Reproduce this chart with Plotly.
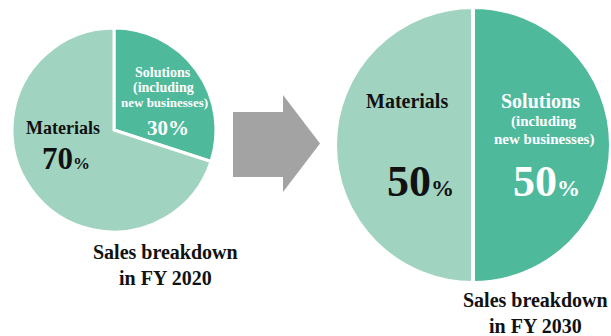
import plotly.graph_objects as go

# Data
categories = ["Solutions", "Materials"]
values_2020 = [30, 70]
values_2030 = [50, 50]
titles = ["Sales breakdown<br>in FY 2020", "Sales breakdown<br>in FY 2030"]

LIGHT = "#a0d4c1"
DARK = "#4fb99b"
GRAY = "#a3a3a3"
FONT = "Liberation Serif"
W, H = 611, 336

fig = go.Figure()

fig.add_trace(go.Pie(
    labels=categories, values=values_2020, sort=False, direction="clockwise",
    rotation=0, textinfo="none", hoverinfo="label+percent",
    marker=dict(colors=[DARK, LIGHT], line=dict(color="white", width=3)),
    domain=dict(x=[12 / W, 216 / W], y=[(H - 232) / H, (H - 28) / H]),
    showlegend=False,
))
fig.add_trace(go.Pie(
    labels=categories, values=values_2030, sort=False, direction="clockwise",
    rotation=0, textinfo="none", hoverinfo="label+percent",
    marker=dict(colors=[DARK, LIGHT], line=dict(color="white", width=4)),
    domain=dict(x=[335 / W, 611 / W], y=[(H - 283) / H, (H - 7) / H]),
    showlegend=False,
))

# Arrow
fig.add_shape(type="path",
              path="M 233,112 L 283,112 L 283,95 L 320,143.5 L 283,192 L 283,177 L 233,177 Z",
              xref="x", yref="y", fillcolor=GRAY, line=dict(width=0), layer="above")

def ann(x, y, text, size, color="#111111"):
    fig.add_annotation(x=x, y=y, xref="x", yref="y", text=text, showarrow=False,
                       font=dict(family=FONT, size=size, color=color),
                       xanchor="center", yanchor="middle")

def pct(v, small):
    return f"<b>{v}<span style='font-size:{small}px'>%</span></b>"

# Left pie labels
ann(63, 128, f"<b>{categories[1]}</b>", 18)
ann(66, 158, pct(values_2020[1], 17), 31)
ann(163, 72, f"<b>{categories[0]}</b>", 14, "white")
ann(163, 88, "<b>(including</b>", 14, "white")
ann(164, 102, "<b>new businesses)</b>", 13, "white")
ann(168, 128, pct(values_2020[0], 21), 21, "white")

# Right pie labels
ann(407, 101, f"<b>{categories[1]}</b>", 20)
ann(420, 181, pct(values_2030[1], 23), 44)
ann(540, 101, f"<b>{categories[0]}</b>", 20, "white")
ann(544, 121, "<b>(including</b>", 15, "white")
ann(544, 139, "<b>new businesses)</b>", 15, "white")
ann(546, 181, pct(values_2030[0], 23), 44, "white")

# Titles
ann(165, 265, f"<b>{titles[0]}</b>", 20)
ann(535, 313, f"<b>{titles[1]}</b>", 20)

fig.update_layout(
    width=W, height=H, margin=dict(l=0, r=0, t=0, b=0),
    paper_bgcolor="white", plot_bgcolor="rgba(0,0,0,0)",
    xaxis=dict(range=[0, W], visible=False, domain=[0, 1], fixedrange=True),
    yaxis=dict(range=[H, 0], visible=False, domain=[0, 1], fixedrange=True),
)

fig.write_html("out.html", config=dict(displayModeBar=False),
               post_script="document.body.style.margin='0';document.body.style.overflow='hidden';")
